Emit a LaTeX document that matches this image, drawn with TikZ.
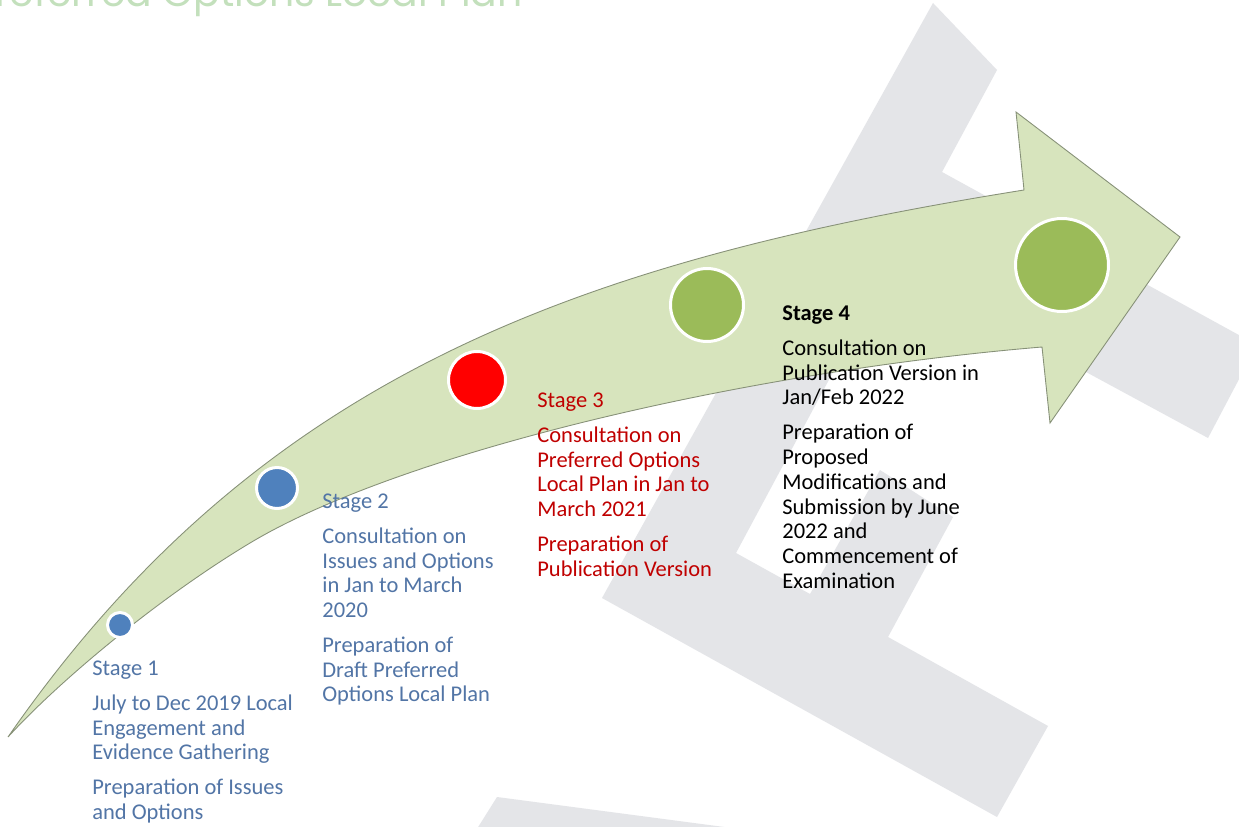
\documentclass[tikz,border=0pt]{standalone}
\usepackage{fontspec}
\setmainfont{Carlito}
\newfontfamily\titlefont{Poppins}

\definecolor{arrowfill}{RGB}{215,228,189}
\definecolor{arrowline}{RGB}{135,145,120}
\definecolor{logogray}{RGB}{228,229,232}
\definecolor{dotblue}{RGB}{79,129,189}
\definecolor{dotred}{RGB}{255,0,0}
\definecolor{dotgreen}{RGB}{155,187,89}
\definecolor{textblue}{RGB}{82,117,166}
\definecolor{textred}{RGB}{192,0,0}
\definecolor{titlegreen}{RGB}{195,224,188}

\begin{document}
\begin{tikzpicture}[x=0.02cm,y=-0.02cm]
    \tikzstyle{dot}=[circle,draw=white,line width=0.06cm,inner sep=0pt]
    \tikzstyle{stagetext}=[anchor=north west,align=left,inner sep=0pt,font=\fontsize{12.8}{14.1}\selectfont]
    \useasboundingbox (0,0) rectangle (1239,827);
    \clip (0,0) rectangle (1239,827);
    \fill[white] (0,0) rectangle (1239,827);

    \fill[logogray] (933,3) -- (997,70) -- (942,172) -- (1257,345) -- (1208,438) -- (890,266)
        -- (736,553) -- (810,594) -- (880,470) -- (953,517) -- (888,637) -- (1048,726)
        -- (997,817) -- (602,598) -- cycle;
    \fill[logogray] (497,797) -- (800,837) -- (470,840) -- cycle;

    \node[anchor=base east,inner sep=0pt,text=titlegreen,font=\titlefont\fontsize{22.4}{24}\selectfont] (title) at (523,7) {Preferred Options Local Plan};

    \draw[arrowline,fill=arrowfill,line width=0.5pt] (8,737) .. controls (258,377) and (574,262) .. (1024,190)
        -- (1016,112) -- (1180,237) -- (1050,423) -- (1042,347)
        .. controls (742,372) and (400,453) .. (250,543)
        .. controls (160,597) and (60,680) .. (8,737) -- cycle;

    \foreach \num/\x/\y/\d/\col in {1/120/625/0.5/dotblue, 2/277/488/0.82/dotblue, 3/477/380/1.14/dotred, 4/707/305/1.46/dotgreen, 5/1062/265/1.86/dotgreen}
        \node[dot,fill=\col,minimum size=\d cm] (dot-\num) at (\x,\y) {};

    \node[stagetext,text=textblue] (stage-1) at (92,660.5) {Stage 1\\[5.7pt]
        July to Dec 2019 Local\\ Engagement and\\ Evidence Gathering\\[5.7pt]
        Preparation of Issues\\ and Options};
    \node[stagetext,text=textblue] (stage-2) at (322,493.5) {Stage 2\\[5.7pt]
        Consultation on\\ Issues and Options\\ in Jan to March\\ 2020\\[5.7pt]
        Preparation of\\ Draft Preferred\\ Options Local Plan};
    \node[stagetext,text=textred] (stage-3) at (537,392.5) {Stage 3\\[5.7pt]
        Consultation on\\ Preferred Options\\ Local Plan in Jan to\\ March 2021\\[5.7pt]
        Preparation of\\ Publication Version};
    \node[stagetext,text=black] (stage-4) at (782,305.5) {\textbf{Stage 4}\\[5.7pt]
        Consultation on\\ Publication Version in\\ Jan/Feb 2022\\[5.7pt]
        Preparation of\\ Proposed\\ Modifications and\\ Submission by June\\ 2022 and\\ Commencement of\\ Examination};
\end{tikzpicture}
\end{document}
